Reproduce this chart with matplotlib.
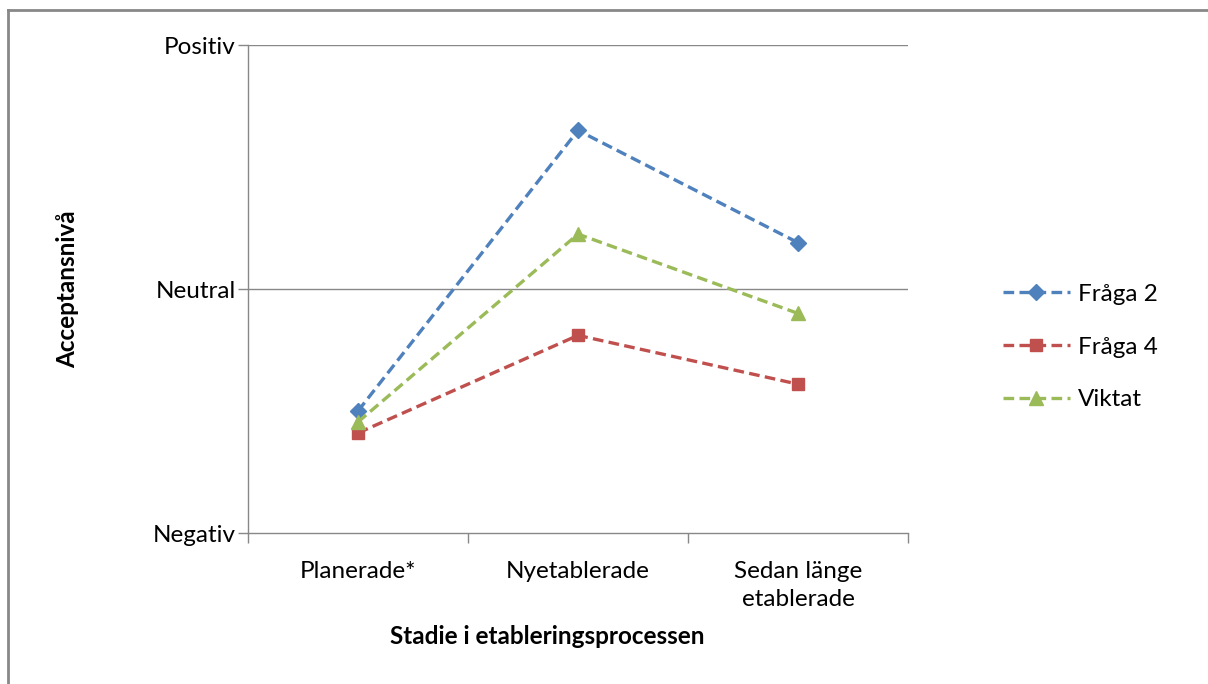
import matplotlib
matplotlib.use("Agg")
import matplotlib.pyplot as plt
from matplotlib.lines import Line2D

# Acceptance level by stage (scale: -1 = Negativ, 0 = Neutral, 1 = Positiv)
categories = ["Planerade*", "Nyetablerade", "Sedan länge\netablerade"]
fraga2 = [-0.50, 0.65, 0.19]
fraga4 = [-0.59, -0.19, -0.39]
viktat = [-0.545, 0.225, -0.10]
y_levels = [-1, 0, 1]
y_labels = ["Negativ", "Neutral", "Positiv"]

plt.rcParams["font.family"] = ["Lato", "DejaVu Sans"]
FS = 17.5

fig = plt.figure(figsize=(12.08, 6.84), dpi=100)
ax = fig.add_axes([248 / 1208, 1 - 533 / 684, 660 / 1208, 488 / 684])

x = list(range(len(categories)))
series = [
    ("Fråga 2", fraga2, "#4F81BD", "D", 8),
    ("Fråga 4", fraga4, "#C0504D", "s", 9),
    ("Viktat", viktat, "#9BBB59", "^", 10),
]
for label, vals, color, marker, ms in series:
    ax.plot(x, vals, color=color, lw=2.4, ls=(0, (3.2, 1.6)), marker=marker,
            markersize=ms, markerfacecolor=color, markeredgecolor=color,
            label=label, zorder=3)

ax.set_xlim(-0.5, 2.5)
ax.set_ylim(-1, 1)
ax.set_yticks(y_levels)
ax.set_yticklabels(y_labels, fontsize=FS)
ax.set_xticks(x)
ax.set_xticklabels(categories, fontsize=FS, linespacing=1.45)
ax.set_xticks([-0.5, 0.5, 1.5, 2.5], minor=True)
ax.tick_params(axis="x", which="major", length=0, pad=20)
ax.tick_params(axis="x", which="minor", length=7, color="#888888", width=1)
ax.tick_params(axis="y", length=7, color="#888888", width=1, pad=2)

for s in ("top", "right"):
    ax.spines[s].set_visible(False)
for s in ("left", "bottom"):
    ax.spines[s].set_color("#888888")
    ax.spines[s].set_linewidth(1)

for yv in (0, 1):
    ax.axhline(yv, color="#888888", lw=1, zorder=1)

ax.set_ylabel("Acceptansnivå", fontsize=FS, fontweight="bold", labelpad=53)
ax.set_xlabel("Stadie i etableringsprocessen", fontsize=FS, fontweight="bold",
              labelpad=10)
ax.xaxis.set_label_coords((547 - 248) / 660, -(637 - 533) / 488, transform=ax.transAxes)
ax.xaxis.label.set_va("center")

handles = [Line2D([], [], color=c, lw=2.4, ls=(0, (3.2, 1.6)), marker=m,
                  markersize=ms, markerfacecolor=c, markeredgecolor=c)
           for _, _, c, m, ms in series]
fig.legend(handles, [s[0] for s in series], loc="center left",
           bbox_to_anchor=(1003 / 1208, 1 - 347 / 684), frameon=False,
           fontsize=FS, handlelength=2.75, labelspacing=1.3,
           handletextpad=0.35, borderaxespad=0, borderpad=0)

# Outer frame lines (top and left)
fig.add_artist(Line2D([8 / 1208, 1], [1 - 10 / 684, 1 - 10 / 684],
                      color="#888888", lw=2, transform=fig.transFigure))
fig.add_artist(Line2D([8 / 1208, 8 / 1208], [0, 1 - 10 / 684],
                      color="#888888", lw=2, transform=fig.transFigure))

fig.savefig("out.png", dpi=100, facecolor="white")
